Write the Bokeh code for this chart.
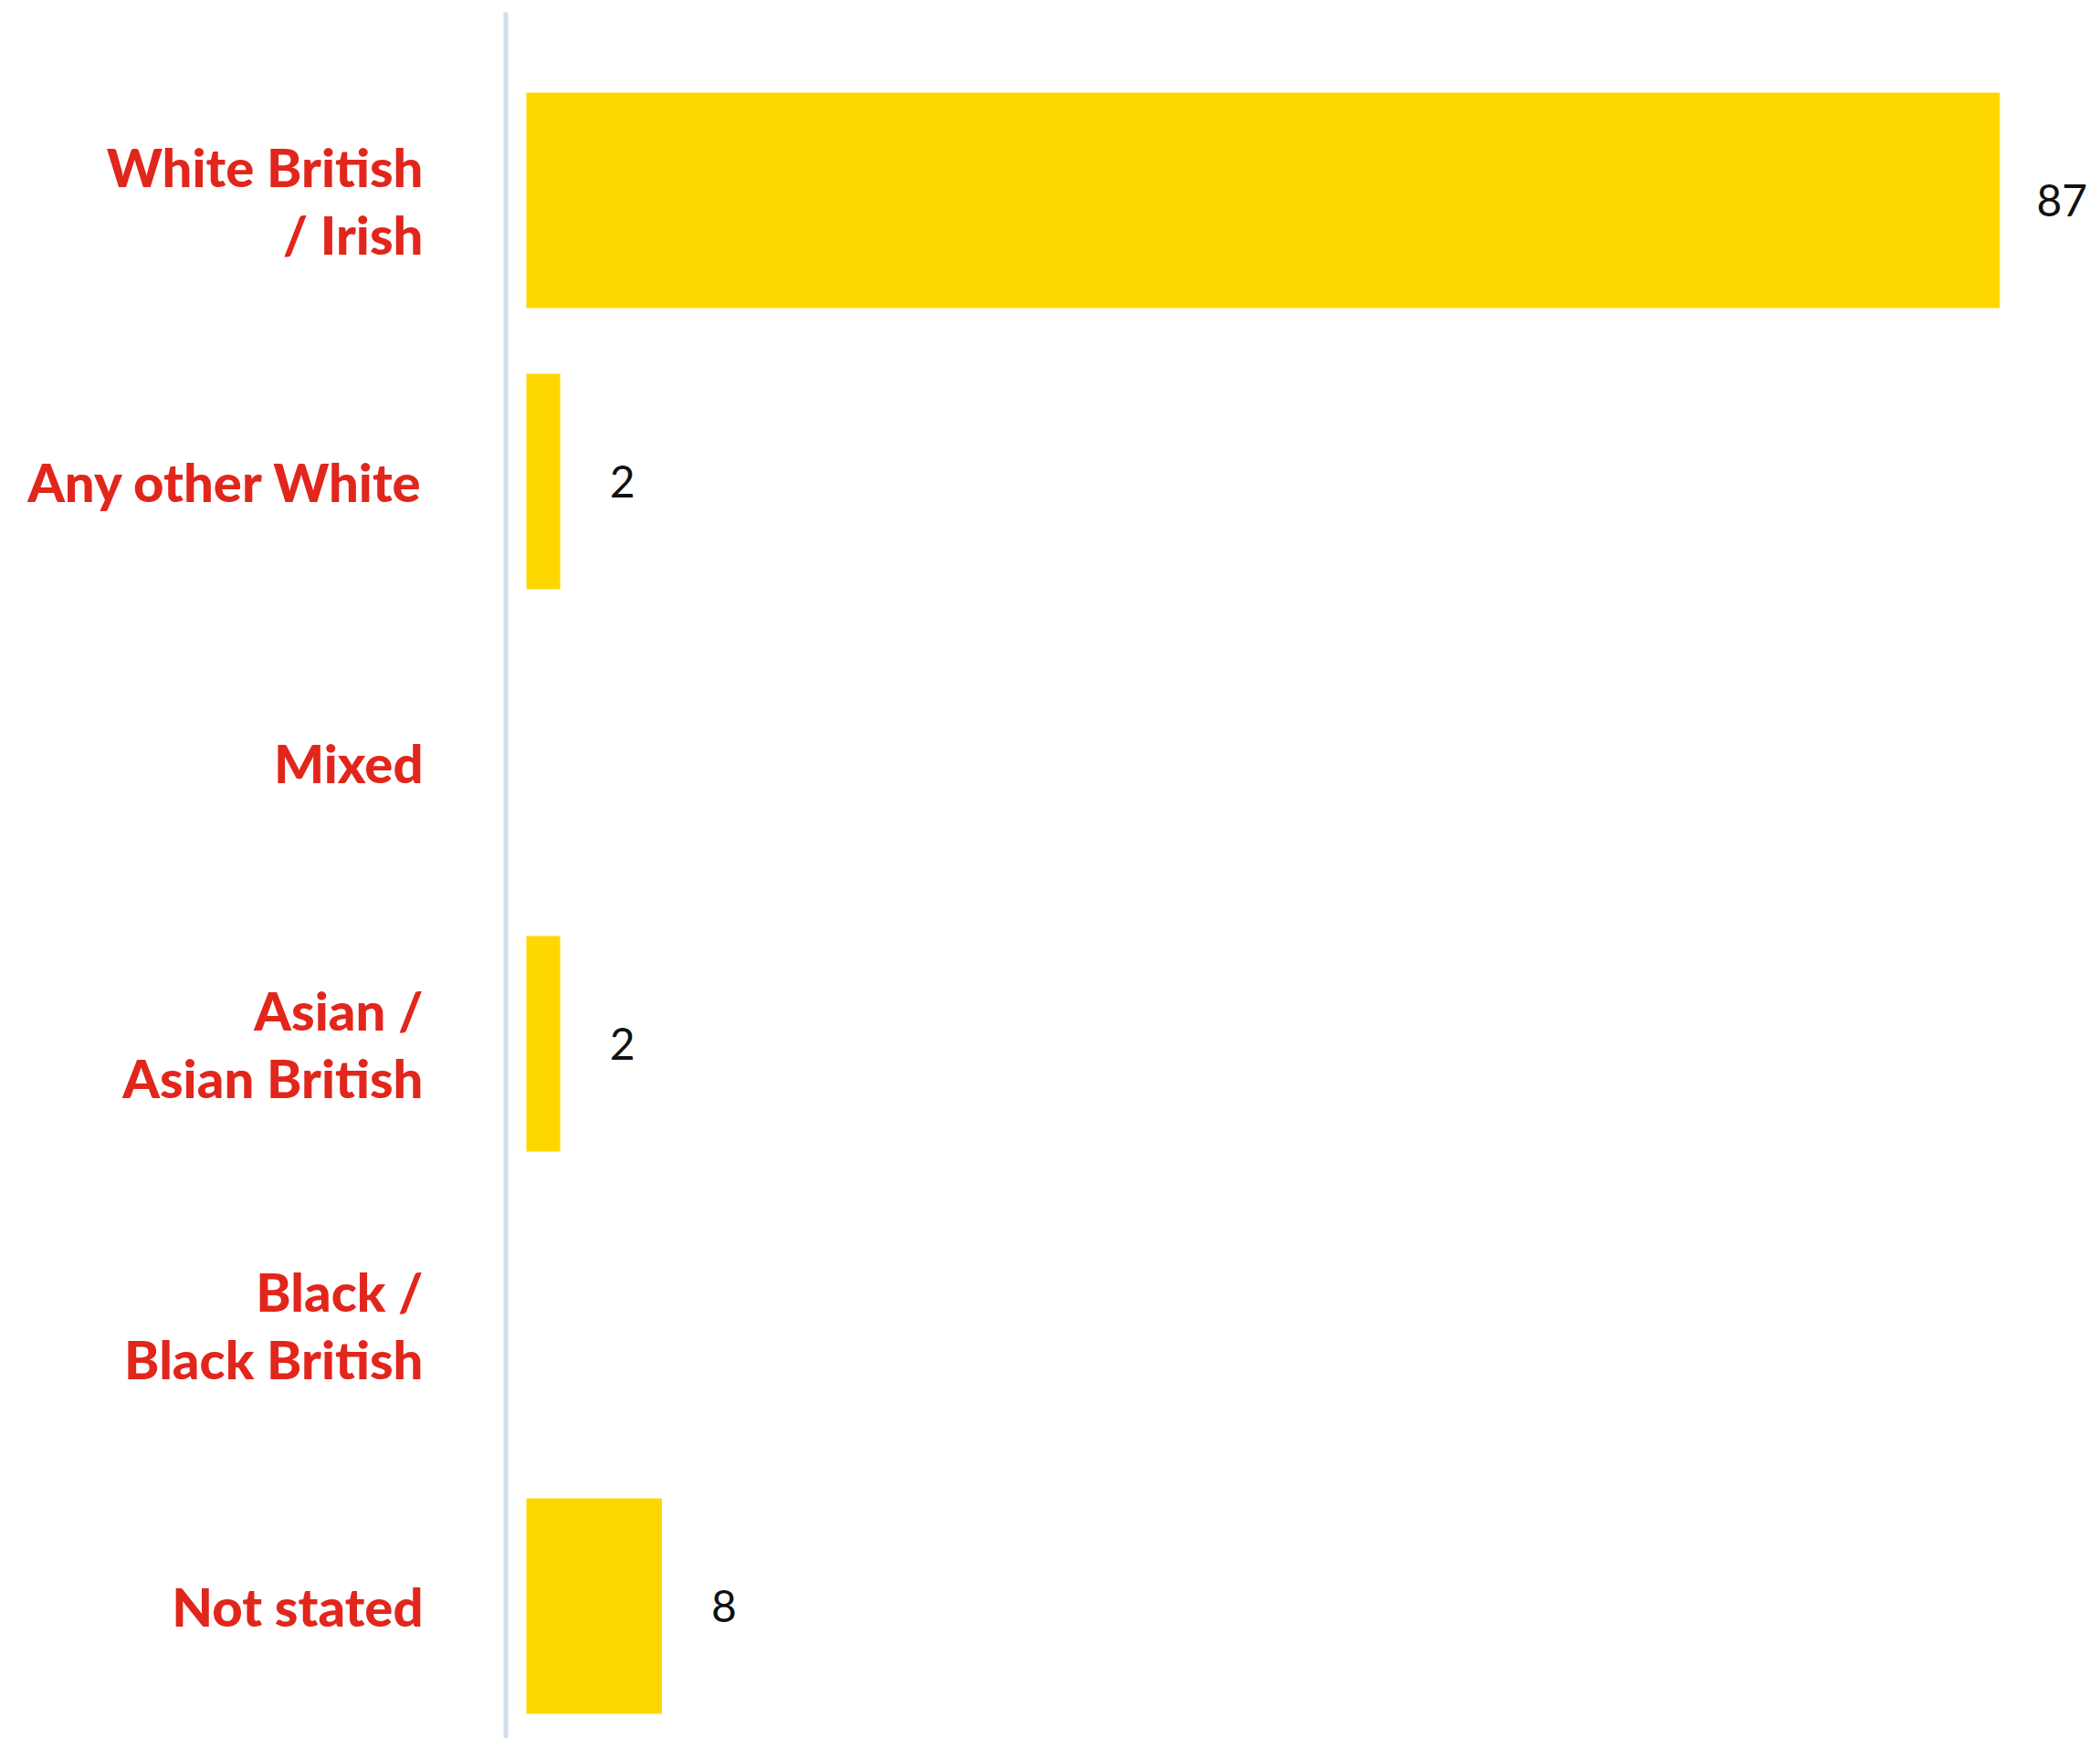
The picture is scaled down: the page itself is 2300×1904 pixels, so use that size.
from bokeh.plotting import figure
from bokeh.models import ColumnDataSource, Range1d
from bokeh.core.properties import value
from bokeh.embed import file_html
from bokeh.resources import INLINE

categories = ["White British\n/ Irish", "Any other White", "Mixed",
              "Asian /\nAsian British", "Black /\nBlack British", "Not stated"]
values = [87, 2, 0, 2, 0, 8]

ys = list(range(len(categories)))

# pixel geometry helpers (style only)
W, H = 2300, 1904
x0_px = 576.0
px_per_unit = 18.55
row_px = 308.0
first_row_px = 219.0

x_start = -x0_px / px_per_unit
x_end = (W - x0_px) / px_per_unit
y_top = -first_row_px / row_px
y_bottom = y_top + H / row_px

p = figure(width=W, height=H, output_backend="svg", toolbar_location=None,
           x_range=Range1d(x_start, x_end), y_range=Range1d(y_bottom, y_top),
           min_border=0, min_border_left=0, min_border_right=0,
           min_border_top=0, min_border_bottom=0)
p.axis.visible = False
p.grid.visible = False
p.outline_line_color = None
p.background_fill_color = "white"
p.border_fill_color = "white"

# axis line
axis_x = (553.5 - x0_px) / px_per_unit
p.segment(x0=[axis_x], y0=[y_top + 13 / row_px], x1=[axis_x], y1=[y_bottom],
          line_color="#cfdfef", line_width=5)

src = ColumnDataSource(dict(y=ys, v=values, cat=categories))
p.hbar(y="y", left=0, right="v", height=0.766, source=src,
       fill_color="#FFD700", line_color=None)

# category labels
label_x = (463 - x0_px) / px_per_unit
p.text(x=label_x, y="y", text="cat", source=src, text_align="right",
       text_baseline="middle", text_color="#E1261C",
       text_font=value("Lato Black"), text_font_style="normal",
       text_font_size="58px", text_line_height=1.08)

# value labels (non-zero only)
lab_y = [y for y, v in zip(ys, values) if v > 0]
lab_v = [v for v in values if v > 0]
lsrc = ColumnDataSource(dict(y=lab_y, v=lab_v, t=[str(v) for v in lab_v]))
p.text(x="v", y="y", text="t", source=lsrc, x_offset=68, text_align="center",
       text_baseline="middle", text_color="#111111",
       text_font=value("Lato"), text_font_size="48px")

open("out.html", "w").write(file_html(p, INLINE))
